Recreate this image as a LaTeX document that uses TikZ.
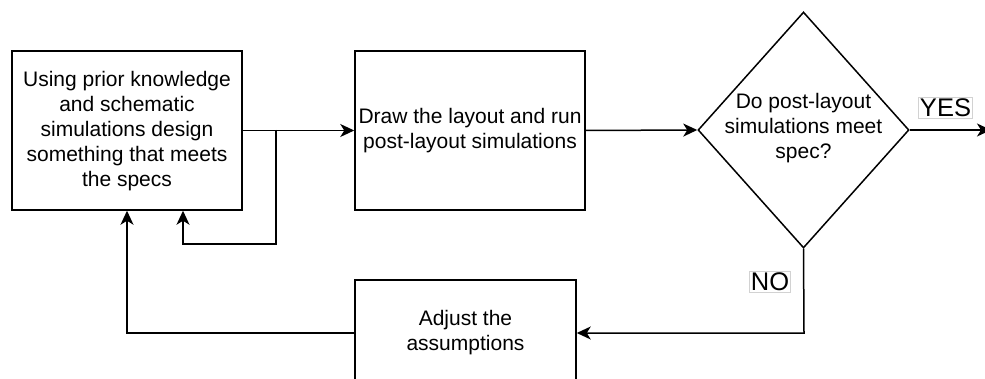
\documentclass[tikz,border=0pt]{standalone}
\usepackage{fontspec}
\setmainfont{Liberation Sans}
\usetikzlibrary{arrows.meta,shapes.geometric}
\tikzset{
  box/.style={draw=black, line width=1.5pt, fill=white, inner sep=0pt},
  txt/.style={align=center, font=\fontsize{21}{25}\selectfont, inner sep=0pt},
  lbl/.style={draw=gray!35, line width=0.6pt, fill=white, inner sep=1.5pt, font=\fontsize{25.5}{28}\selectfont},
  arr/.style={draw=black, line width=1.5pt, -{Stealth[length=14pt, width=13pt, inset=4pt]}},
  ln/.style={draw=black, line width=1.5pt}
}
\begin{document}
\begin{tikzpicture}[x=1pt, y=-1pt]
\useasboundingbox (0,0) rectangle (985,379);
\clip (0,0) rectangle (985,379);
% boxes
\node[box, minimum width=230pt, minimum height=159pt] (b1) at (127,130.5) {};
\node[txt] (t1) at (127,131.5) {Using prior knowledge\\and schematic\\simulations design\\something that meets\\the specs};
\node[box, minimum width=230pt, minimum height=159pt] (b2) at (470,130.5) {};
\node[txt] (t2) at (b2.center) {Draw the layout and run\\post-layout simulations};
\node[box, shape=diamond, minimum width=211pt, minimum height=236pt] (dia) at (803.5,130) {};
\node[txt] (t3) at (803.5,128) {Do post-layout\\simulations meet\\spec?};
\node[box, minimum width=221pt, minimum height=106pt] (b3) at (465.5,333) {};
\node[txt] (t4) at (b3.center) {Adjust the\\assumptions};
% coordinates
\coordinate (br) at (276,130);
\coordinate (lp) at (183,244);
\coordinate (yesend) at (991,130);
\coordinate (nocorner) at (804,333);
% connectors
\draw[arr] (b1.east) -- (b2.west);
\draw[arr] (br) |- (lp) -- (lp |- b1.south);
\draw[arr] (b2.east) -- (dia.west);
\draw[arr] (dia.east) -- (yesend);
\draw[arr] (dia.south) -- (nocorner) -- (b3.east);
\draw[arr] (b3.west) -| (b1.south);
% labels
\node[lbl] (yes) at (945.5,107.5) {YES};
\node[lbl] (no) at (770,281.5) {NO};
\end{tikzpicture}
\end{document}
